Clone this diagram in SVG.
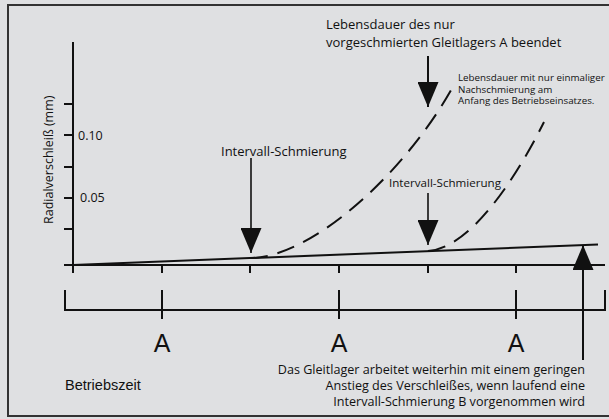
<svg xmlns="http://www.w3.org/2000/svg" width="609" height="419" viewBox="0 0 609 419">
<style>
.ln{stroke:#111;stroke-width:2;fill:none;stroke-linecap:butt}
.thin{stroke:#111;stroke-width:1.6;fill:none}
.dash{stroke:#111;stroke-width:2;fill:none;stroke-dasharray:18 10}
.t{font-family:"Open Sans","Noto Sans",sans-serif;fill:#111}
.a{font-family:"Liberation Sans",Arial,sans-serif;fill:#111}
</style>
<defs>
<marker id="head" markerUnits="userSpaceOnUse" markerWidth="25" markerHeight="21" viewBox="0 0 25 21" refX="25" refY="10.5" orient="auto">
<path d="M0,0 L25,10.5 L0,21 Z" fill="#111"/>
</marker>
</defs>
<rect x="0" y="0" width="609" height="419" fill="#dfe0e2"/>
<rect x="8" y="5" width="610" height="411" fill="none" stroke="#333" stroke-width="2"/>

<g id="axes">
<path class="ln" d="M73,42 V273 M64,265 H605"/>
<path class="ln" d="M64,104 H73 M64,135 H73 M64,167 H73 M64,198 H73 M64,229 H73"/>
<path class="ln" d="M162,265 V273 M250,265 V273 M339,265 V273 M428,265 V273 M516,265 V273"/>
<text class="t" x="78" y="140" font-size="12.5">0.10</text>
<text class="t" x="80" y="202" font-size="12.5">0.05</text>
<text class="t" font-size="12.5" transform="translate(53,224) rotate(-90)">Radialverschleiß (mm)</text>
</g>

<g id="timeline">
<path class="ln" d="M65,290 V310 H605 V290 M162,290 V319 M339,290 V319 M516,290 V319"/>
<text class="a" x="162" y="352" font-size="25" text-anchor="middle">A</text>
<text class="a" x="339" y="352" font-size="25" text-anchor="middle">A</text>
<text class="a" x="516" y="352" font-size="25" text-anchor="middle">A</text>
<text class="a" x="65" y="390" font-size="14.5">Betriebszeit</text>
</g>

<g id="curves">
<path class="ln" d="M73,265 L598,244.5"/>
<path class="dash" d="M250,258 C310,258 405,175 455,83"/>
<path class="dash" d="M428,251 C470,248 515,180 544,122"/>
</g>

<g id="connectors">
<path class="ln" d="M428,56 V107" marker-end="url(#head)"/>
<path class="thin" d="M251,158 V253" marker-end="url(#head)"/>
<path class="thin" d="M428,193 V245" marker-end="url(#head)"/>
<path class="ln" d="M583,360 V245" marker-end="url(#head)"/>
</g>

<g id="label-lebensdauer">
<text class="t" x="326" y="29" font-size="13">Lebensdauer des nur</text>
<text class="t" x="326" y="47" font-size="13">vorgeschmierten Gleitlagers A beendet</text>
</g>

<g id="label-einmalig">
<text class="t" x="458" y="81" font-size="9.8">Lebensdauer mit nur einmaliger</text>
<text class="t" x="458" y="92.5" font-size="9.8">Nachschmierung am</text>
<text class="t" x="458" y="104" font-size="9.8">Anfang des Betriebseinsatzes.</text>
</g>

<g id="label-intervall-1">
<text class="t" x="221" y="156" font-size="13">Intervall-Schmierung</text>
</g>
<g id="label-intervall-2">
<text class="t" x="389" y="187" font-size="11.6">Intervall-Schmierung</text>
</g>

<g id="label-weiterhin">
<text class="t" x="585" y="374" font-size="12.6" text-anchor="end">Das Gleitlager arbeitet weiterhin mit einem geringen</text>
<text class="t" x="585" y="390" font-size="12.6" text-anchor="end">Anstieg des Verschleißes, wenn laufend eine</text>
<text class="t" x="585" y="406" font-size="12.6" text-anchor="end">Intervall-Schmierung B vorgenommen wird</text>
</g>
</svg>
